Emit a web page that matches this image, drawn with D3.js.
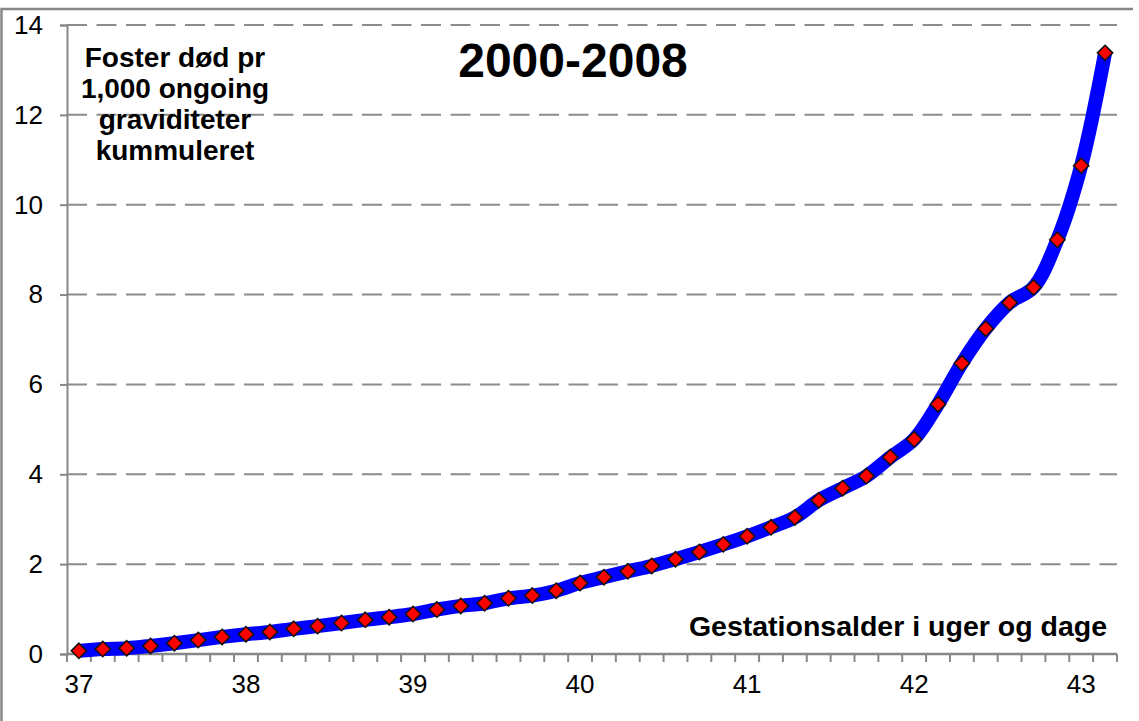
<!DOCTYPE html>
<html><head><meta charset="utf-8">
<script src="https://cdn.jsdelivr.net/npm/d3@7"></script>
<style>body{margin:0;background:#fff}svg{display:block;font-family:"Liberation Sans",Arial,sans-serif}</style>
</head><body><svg id="c" width="1139" height="721"></svg>
<script>
const categories = ["37+0","37+1","37+2","37+3","37+4","37+5","37+6",
  "38+0","38+1","38+2","38+3","38+4","38+5","38+6",
  "39+0","39+1","39+2","39+3","39+4","39+5","39+6",
  "40+0","40+1","40+2","40+3","40+4","40+5","40+6",
  "41+0","41+1","41+2","41+3","41+4","41+5","41+6",
  "42+0","42+1","42+2","42+3","42+4","42+5","42+6",
  "43+0","43+1"];
const values = [0.07,0.11,0.13,0.18,0.24,0.31,0.38,0.44,0.49,0.56,0.62,0.69,0.76,0.82,
  0.89,0.99,1.07,1.13,1.24,1.30,1.41,1.58,1.71,1.84,1.96,2.11,2.27,2.44,2.62,2.82,3.04,
  3.42,3.69,3.96,4.38,4.78,5.56,6.47,7.24,7.82,8.16,9.22,10.87,13.38];
const xTickLabels = ["37+0","38+0","39+0","40+0","41+0","42+0","43+0"];
const yTicks = [0,2,4,6,8,10,12,14];
const title = "2000-2008";
const yTitleLines = ["Foster død pr","1,000 ongoing","graviditeter","kummuleret"];
const xTitle = "Gestationsalder i uger og dage";

const svg = d3.select("#c");
const L = 67, R = 1117, T = 25, B = 654;
const x = d3.scaleBand().domain(categories).range([L, R]);
const y = d3.scaleLinear().domain([0, 14]).range([B, T]);
const grey = "#878787";
const font = "Liberation Sans, Arial, sans-serif";

// outer frame
svg.append("path").attr("d", `M1.5,${721} L1.5,9 L1133,9`).attr("fill","none").attr("stroke", grey).attr("stroke-width", 2.5);

// gridlines
svg.append("g").selectAll("line").data(yTicks.filter(d => d > 0)).join("line")
  .attr("x1", L).attr("x2", R).attr("y1", d => y(d)).attr("y2", d => y(d))
  .attr("stroke", "#8c8c8c").attr("stroke-width", 2).attr("stroke-dasharray", "20,9.5");

// y axis
const yAxis = d3.axisLeft(y).tickValues(yTicks).tickSize(7).tickPadding(17).tickFormat(d3.format("d"));
const gy = svg.append("g").attr("transform", `translate(${L},0)`).call(yAxis);
gy.select(".domain").attr("stroke", grey).attr("stroke-width", 2);
gy.selectAll(".tick line").attr("stroke", grey).attr("stroke-width", 2);
gy.selectAll(".tick text").attr("font-size", 26).attr("fill", "#000").attr("font-family", font);

// x axis
const xAxis = d3.axisBottom(x).tickValues(xTickLabels).tickSize(0).tickPadding(21).tickFormat(d => d.split("+")[0]);
const gx = svg.append("g").attr("transform", `translate(0,${B})`).call(xAxis);
gx.select(".domain").remove();
gx.selectAll(".tick text").attr("font-size", 26).attr("fill", "#000").attr("font-family", font);
const bounds = categories.map(c => x(c)).concat([x(categories[categories.length-1]) + x.bandwidth()]);
svg.append("g").selectAll("line").data(bounds).join("line")
  .attr("x1", d => d).attr("x2", d => d).attr("y1", B).attr("y2", B + 8)
  .attr("stroke", grey).attr("stroke-width", 2);
svg.append("line").attr("x1", L).attr("x2", R).attr("y1", B).attr("y2", B).attr("stroke", grey).attr("stroke-width", 2.5);

// line
const cx = c => x(c) + x.bandwidth() / 2;
const line = d3.line().x((d, i) => cx(categories[i])).y(d => y(d)).curve(d3.curveCatmullRom.alpha(0.5));
svg.append("path").datum(values).attr("d", line).attr("fill", "none")
  .attr("stroke", "#0000ff").attr("stroke-width", 14).attr("stroke-linejoin", "round");

// markers
const sym = d3.symbol().type(d3.symbolDiamond2).size(150);
svg.append("g").selectAll("path").data(values).join("path")
  .attr("d", sym)
  .attr("transform", (d, i) => `translate(${cx(categories[i])},${y(d)})`)
  .attr("fill", "#ff0000").attr("stroke", "#111").attr("stroke-width", 1.5);

// texts
svg.append("text").attr("x", 573).attr("y", 77).attr("text-anchor", "middle")
  .attr("font-size", 48).attr("font-weight", "bold").text(title);
svg.append("g").selectAll("text").data(yTitleLines).join("text")
  .attr("x", 175).attr("y", (d, i) => 67 + i * 31).attr("text-anchor", "middle")
  .attr("font-size", 28).attr("font-weight", "bold").text(d => d);
svg.append("text").attr("x", 1107).attr("y", 636).attr("text-anchor", "end")
  .attr("font-size", 28.5).attr("font-weight", "bold").text(xTitle);
</script></body></html>
